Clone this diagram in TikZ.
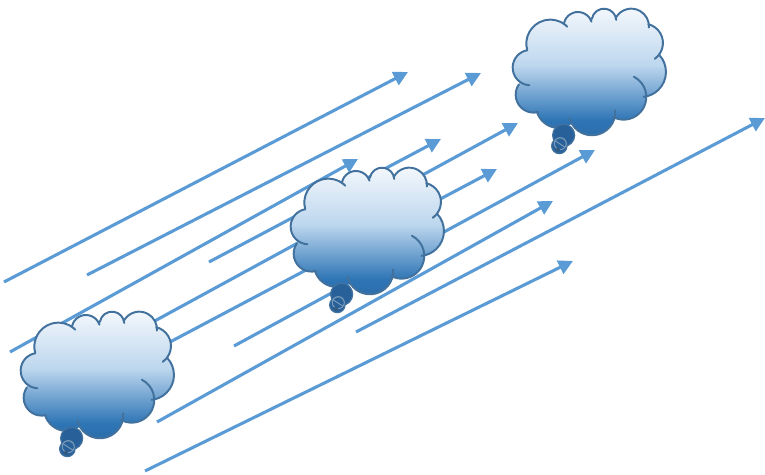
\documentclass[tikz,border=0pt]{standalone}
\usetikzlibrary{arrows.meta}
\definecolor{raycol}{HTML}{5B9BD5}
\definecolor{cloudedge}{HTML}{41719C}
\definecolor{cloudtop}{HTML}{F3F7FC}
\definecolor{cloudmid}{HTML}{BDD7EE}
\definecolor{cloudlow}{HTML}{2E75B6}
\definecolor{cloudbot}{HTML}{2A659E}
\definecolor{cloudtail}{HTML}{28609A}
\pgfdeclareverticalshading{cloudgrad}{100bp}{color(0bp)=(cloudbot); color(25bp)=(cloudbot); color(36.5bp)=(cloudlow); color(55.5bp)=(cloudmid); color(75bp)=(cloudtop); color(100bp)=(cloudtop)}
\tikzset{
  ray/.style={line width=2.2pt, draw=raycol, -{Triangle[length=0.36cm,width=0.36cm]}},
  cloudline/.style={line width=1.4pt, draw=cloudedge, line cap=round},
  cloudring/.style={line width=0.9pt, draw=cloudedge, fill=cloudtail},
  cloudmark/.style={line width=0.7pt, draw=white!30!cloudedge},
  cloudpic/.pic={
    \begin{scope}[x=0.008333cm,y=-0.008333cm]
    \shade[shading=cloudgrad] (300,230) circle (150)
      (175,140) circle (72) (258,88) circle (43) (336,72) circle (37) (418,88) circle (53)
      (455,138) circle (58) (447,225) circle (75) (395,300) circle (68) (300,345) circle (70)
      (200,325) circle (68) (125,293) circle (54) (115,212) circle (53)
      (215,415) circle (33) (202,447) circle (23);
    \draw[cloudline] (175,140) ++(164:72) arc[start angle=164,end angle=315,radius=72];
    \draw[cloudline] (258,88) ++(193:43) arc[start angle=193,end angle=341,radius=43];
    \draw[cloudline] (336,72) ++(189:37) arc[start angle=189,end angle=355,radius=37];
    \draw[cloudline] (418,88) ++(210:53) arc[start angle=210,end angle=364,radius=53];
    \draw[cloudline] (455,138) ++(284:58) arc[start angle=284,end angle=415,radius=58];
    \draw[cloudline] (447,225) ++(316:75) arc[start angle=316,end angle=444,radius=75];
    \draw[cloudline] (395,300) ++(297:68) arc[start angle=297,end angle=478,radius=68];
    \draw[cloudline] (300,345) ++(-4:70) arc[start angle=-4,end angle=166,radius=70];
    \draw[cloudline] (200,325) ++(98:68) arc[start angle=98,end angle=163,radius=68];
    \draw[cloudline] (125,293) ++(76:54) arc[start angle=76,end angle=215,radius=54];
    \draw[cloudline] (115,212) ++(93:53) arc[start angle=93,end angle=259,radius=53];
    \draw[cloudring] (215,415) circle (33);
    \draw[cloudring] (202,447) circle (23);
    \draw[cloudmark] (205,440) circle (18);
    \draw[cloudmark] (190,432) -- (218,450);
    \fill[cloudedge!80!black] (198,458) circle (6);
    \end{scope}
  },
}
\begin{document}
\begin{tikzpicture}
\useasboundingbox (0,0) rectangle (19.125,11.875);
\draw[ray] (0.100,4.825) -- (10.200,10.075);
\draw[ray] (2.175,5.000) -- (12.025,10.050);
\draw[ray] (0.250,3.075) -- (8.950,7.900);
\draw[ray] (5.225,5.325) -- (11.025,8.400);
\draw[ray] (3.500,3.650) -- (12.950,8.800);
\draw[ray] (4.250,3.325) -- (12.425,7.650);
\draw[ray] (5.850,3.225) -- (14.875,8.125);
\draw[ray] (3.925,1.325) -- (13.825,6.850);
\draw[ray] (8.900,3.575) -- (19.125,8.925);
\draw[ray] (3.625,0.100) -- (14.325,5.350);
\pic at (0,4.375) {cloudpic};
\pic at (6.750,7.975) {cloudpic};
\pic at (12.300,11.950) {cloudpic};
\end{tikzpicture}
\end{document}
